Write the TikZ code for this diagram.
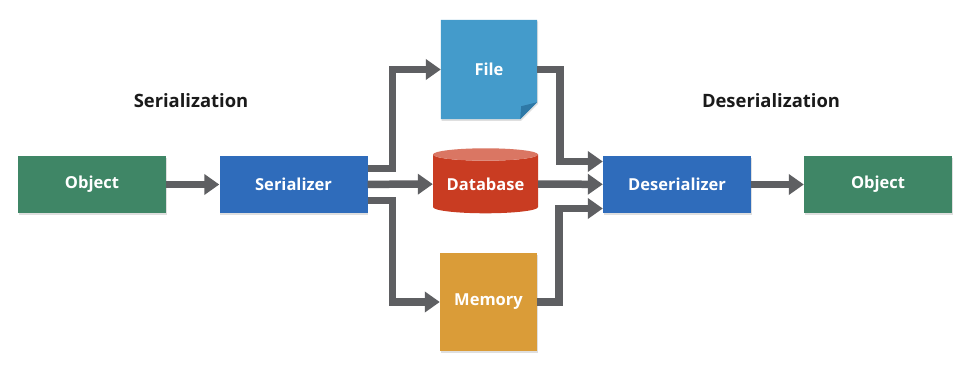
\documentclass[tikz,border=0pt]{standalone}
\usepackage{fontspec}
\setmainfont{Open Sans}
\usetikzlibrary{arrows.meta,shapes.geometric,shadows,backgrounds}
\definecolor{ObjGreen}{HTML}{3F8666}
\definecolor{SerBlue}{HTML}{2F6CBB}
\definecolor{FileBlue}{HTML}{449BCB}
\definecolor{FileFold}{HTML}{2E78A6}
\definecolor{DbRed}{HTML}{C93C22}
\definecolor{DbTop}{HTML}{DA7663}
\definecolor{MemGold}{HTML}{DA9C38}
\definecolor{ArrowGrey}{HTML}{5E5F62}
\definecolor{TextInk}{HTML}{1A1A1A}
\begin{document}
\begin{tikzpicture}[x=1pt,y=-1pt,every node/.style={font=\bfseries\fontsize{16.5}{19}\selectfont},box/.style={rectangle,minimum width=148pt,minimum height=57pt,inner sep=0pt,text=white,drop shadow={opacity=0.25,shadow xshift=0.8pt,shadow yshift=-1.6pt}},store/.style={rectangle,minimum width=97pt,minimum height=98pt,inner sep=0pt,text=white},flow/.style={draw=ArrowGrey,line width=7.5pt,line join=miter,-{Triangle[length=15pt,width=20pt]}},title/.style={text=TextInk,font=\bfseries\fontsize{18.4}{21}\selectfont}]
\begin{scope}[on background layer]
\fill[white] (0,0) rectangle (966,366);
\end{scope}
\useasboundingbox (0,0) rectangle (966,366);
\node[box,fill=ObjGreen] (objA) at (92,184.5) {Object};
\node[box,fill=SerBlue] (ser) at (293.5,184.5) {Serializer};
\node[box,fill=SerBlue] (deser) at (677,184.5) {Deserializer};
\node[box,fill=ObjGreen] (objB) at (878,184.5) {Object};
\node[store,minimum width=96pt,minimum height=99pt] (file) at (489,69.5) {File};
\node[shape=cylinder,shape border rotate=90,aspect=0.16,minimum width=105pt,minimum height=65pt,inner sep=0pt,cylinder uses custom fill,cylinder body fill=DbRed,cylinder end fill=DbTop,text=white] (db) at (485.5,184) {\raisebox{-4pt}{Database}};
\node[store,fill=MemGold,drop shadow={opacity=0.25,shadow xshift=0.8pt,shadow yshift=-1.6pt}] (mem) at (488.5,302) {Memory};
\node[title] (serlbl) at (191,101) {Serialization};
\node[title] (deserlbl) at (771,101) {Deserialization};
% file sheet with folded corner
\begin{scope}[on background layer]
\fill[FileBlue,drop shadow={opacity=0.25,shadow xshift=0.8pt,shadow yshift=-1.6pt}] (file.north west) -- (file.north east) -- ([yshift=17pt]file.south east) -- ([xshift=-17pt]file.south east) -- (file.south west) -- cycle;
\fill[FileFold] ([yshift=17pt]file.south east) -- ([xshift=-16pt,yshift=13pt]file.south east) -- ([xshift=-17pt]file.south east) -- cycle;
\end{scope}
\draw[flow] (objA) -- (ser);
\draw[flow] ([yshift=16pt]ser.east) -- ++(25,0) |- (file);
\draw[flow] (ser) -- (db);
\draw[flow] ([yshift=-16pt]ser.east) -- ++(25,0) |- (mem);
\draw[flow] (file.east) -- ++(23,0) |- ([yshift=23pt]deser.west);
\draw[flow] (db) -- (deser);
\draw[flow] (mem.east) -- ++(22,0) |- ([yshift=-24pt]deser.west);
\draw[flow] (deser) -- (objB);
\end{tikzpicture}
\end{document}
